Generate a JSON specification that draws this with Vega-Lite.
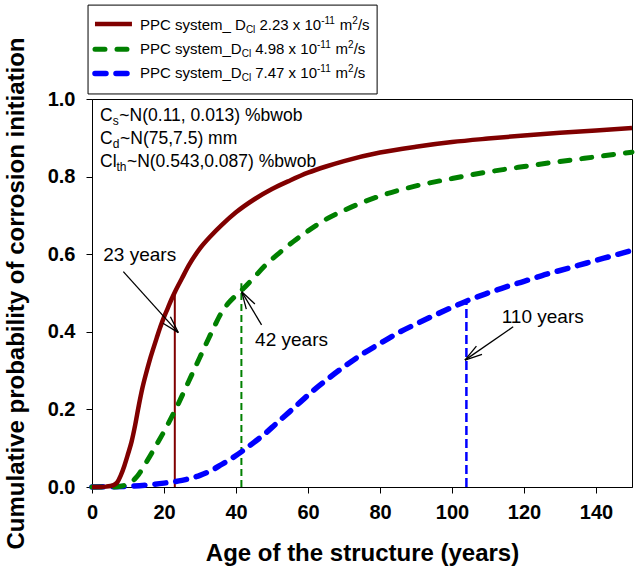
{
  "$schema": "https://vega.github.io/schema/vega-lite/v6.json",
  "autosize": "none",
  "width": 540,
  "height": 388,
  "padding": {"left": 92, "top": 99, "right": 3, "bottom": 79},
  "background": "white",
  "config": {
    "view": {"stroke": "black", "strokeWidth": 1},
    "font": "Liberation Sans",
    "axis": {
      "domainColor": "black", "tickColor": "black", "tickSize": 6, "grid": false,
      "labelFont": "Liberation Sans", "labelFontWeight": "bold", "labelFontSize": 20, "labelColor": "black",
      "titleFont": "Liberation Sans", "titleFontWeight": "bold", "titleFontSize": 24, "titleColor": "black",
      "labelFlush": false, "labelOverlap": false
    }
  },
  "datasets": {
    "curves": [
      {"series": "red", "age": 0, "p": 0}, {"series": "red", "age": 2, "p": 0}, {"series": "red", "age": 4, "p": 0.001},
      {"series": "red", "age": 6, "p": 0.005}, {"series": "red", "age": 7, "p": 0.012}, {"series": "red", "age": 8, "p": 0.03},
      {"series": "red", "age": 9, "p": 0.055}, {"series": "red", "age": 10, "p": 0.085}, {"series": "red", "age": 11, "p": 0.117},
      {"series": "red", "age": 12, "p": 0.16}, {"series": "red", "age": 13, "p": 0.21}, {"series": "red", "age": 14, "p": 0.255},
      {"series": "red", "age": 15, "p": 0.292}, {"series": "red", "age": 16, "p": 0.326}, {"series": "red", "age": 17, "p": 0.356},
      {"series": "red", "age": 18, "p": 0.385}, {"series": "red", "age": 19, "p": 0.413}, {"series": "red", "age": 20, "p": 0.438},
      {"series": "red", "age": 21, "p": 0.46}, {"series": "red", "age": 22, "p": 0.482}, {"series": "red", "age": 23, "p": 0.502},
      {"series": "red", "age": 25, "p": 0.538}, {"series": "red", "age": 27, "p": 0.573}, {"series": "red", "age": 30, "p": 0.615},
      {"series": "red", "age": 33, "p": 0.647}, {"series": "red", "age": 36, "p": 0.675}, {"series": "red", "age": 40, "p": 0.708},
      {"series": "red", "age": 45, "p": 0.741}, {"series": "red", "age": 50, "p": 0.768}, {"series": "red", "age": 55, "p": 0.79},
      {"series": "red", "age": 60, "p": 0.81}, {"series": "red", "age": 65, "p": 0.826}, {"series": "red", "age": 70, "p": 0.84},
      {"series": "red", "age": 80, "p": 0.862}, {"series": "red", "age": 90, "p": 0.877}, {"series": "red", "age": 100, "p": 0.889},
      {"series": "red", "age": 110, "p": 0.898}, {"series": "red", "age": 120, "p": 0.906}, {"series": "red", "age": 130, "p": 0.913},
      {"series": "red", "age": 140, "p": 0.919}, {"series": "red", "age": 150, "p": 0.925},

      {"series": "green", "age": 0, "p": 0}, {"series": "green", "age": 5, "p": 0}, {"series": "green", "age": 8, "p": 0.002},
      {"series": "green", "age": 10, "p": 0.008}, {"series": "green", "age": 11, "p": 0.013}, {"series": "green", "age": 12, "p": 0.022},
      {"series": "green", "age": 13, "p": 0.033}, {"series": "green", "age": 14, "p": 0.047}, {"series": "green", "age": 15, "p": 0.062},
      {"series": "green", "age": 16, "p": 0.078}, {"series": "green", "age": 18, "p": 0.11}, {"series": "green", "age": 20, "p": 0.143},
      {"series": "green", "age": 22, "p": 0.178}, {"series": "green", "age": 24, "p": 0.215}, {"series": "green", "age": 26, "p": 0.255},
      {"series": "green", "age": 28, "p": 0.295}, {"series": "green", "age": 30, "p": 0.335}, {"series": "green", "age": 32, "p": 0.375},
      {"series": "green", "age": 34, "p": 0.414}, {"series": "green", "age": 36, "p": 0.45}, {"series": "green", "age": 38, "p": 0.475},
      {"series": "green", "age": 40, "p": 0.494}, {"series": "green", "age": 42, "p": 0.511}, {"series": "green", "age": 45, "p": 0.54},
      {"series": "green", "age": 48, "p": 0.57}, {"series": "green", "age": 52, "p": 0.603}, {"series": "green", "age": 56, "p": 0.633},
      {"series": "green", "age": 60, "p": 0.66}, {"series": "green", "age": 65, "p": 0.69}, {"series": "green", "age": 70, "p": 0.713},
      {"series": "green", "age": 75, "p": 0.733}, {"series": "green", "age": 80, "p": 0.75}, {"series": "green", "age": 90, "p": 0.776},
      {"series": "green", "age": 100, "p": 0.795}, {"series": "green", "age": 110, "p": 0.812}, {"series": "green", "age": 120, "p": 0.826},
      {"series": "green", "age": 130, "p": 0.839}, {"series": "green", "age": 140, "p": 0.851}, {"series": "green", "age": 150, "p": 0.863},

      {"series": "blue", "age": 0, "p": 0}, {"series": "blue", "age": 10, "p": 0.002}, {"series": "blue", "age": 15, "p": 0.005},
      {"series": "blue", "age": 20, "p": 0.01}, {"series": "blue", "age": 25, "p": 0.017}, {"series": "blue", "age": 30, "p": 0.03},
      {"series": "blue", "age": 33, "p": 0.042}, {"series": "blue", "age": 36, "p": 0.058}, {"series": "blue", "age": 39, "p": 0.075},
      {"series": "blue", "age": 42, "p": 0.094}, {"series": "blue", "age": 45, "p": 0.115}, {"series": "blue", "age": 48, "p": 0.137},
      {"series": "blue", "age": 51, "p": 0.162}, {"series": "blue", "age": 55, "p": 0.195}, {"series": "blue", "age": 58, "p": 0.22},
      {"series": "blue", "age": 61, "p": 0.245}, {"series": "blue", "age": 65, "p": 0.275}, {"series": "blue", "age": 70, "p": 0.31},
      {"series": "blue", "age": 75, "p": 0.342}, {"series": "blue", "age": 80, "p": 0.37}, {"series": "blue", "age": 85, "p": 0.397},
      {"series": "blue", "age": 90, "p": 0.42}, {"series": "blue", "age": 95, "p": 0.442}, {"series": "blue", "age": 100, "p": 0.463},
      {"series": "blue", "age": 105, "p": 0.483}, {"series": "blue", "age": 110, "p": 0.5}, {"series": "blue", "age": 115, "p": 0.516},
      {"series": "blue", "age": 120, "p": 0.53}, {"series": "blue", "age": 125, "p": 0.545}, {"series": "blue", "age": 130, "p": 0.558},
      {"series": "blue", "age": 135, "p": 0.571}, {"series": "blue", "age": 140, "p": 0.584}, {"series": "blue", "age": 145, "p": 0.597},
      {"series": "blue", "age": 150, "p": 0.61}
    ],
    "drops": [
      {"series": "red", "age": 23, "p": 0.5},
      {"series": "green", "age": 41.5, "p": 0.525},
      {"series": "blue", "age": 104, "p": 0.48}
    ],
    "arrows": [
      {"x": 8.7, "y": 0.555, "x2": 23.97, "y2": 0.398},
      {"x": 23.97, "y": 0.398, "x2": 21.78, "y2": 0.439},
      {"x": 23.97, "y": 0.398, "x2": 19.72, "y2": 0.422},
      {"x": 47.1, "y": 0.418, "x2": 41.6, "y2": 0.503},
      {"x": 41.6, "y": 0.503, "x2": 42.86, "y2": 0.4585},
      {"x": 41.6, "y": 0.503, "x2": 45.25, "y2": 0.4716},
      {"x": 117.0, "y": 0.413, "x2": 103.6, "y2": 0.327},
      {"x": 103.6, "y": 0.327, "x2": 108.33, "y2": 0.342},
      {"x": 103.6, "y": 0.327, "x2": 106.78, "y2": 0.363}
    ],
    "labels": [
      {"text": "23 years", "age": 3.14, "p": 0.582},
      {"text": "42 years", "age": 45.3, "p": 0.363},
      {"text": "110 years", "age": 113.8, "p": 0.423}
    ],
    "params": [
      {"text": "C", "age": 2.22, "p": 0.943, "role": "main"},
      {"text": "s", "age": 5.75, "p": 0.943, "role": "sub"},
      {"text": "~N(0.11, 0.013) %bwob", "age": 7.6, "p": 0.943, "role": "main"},
      {"text": "C", "age": 2.22, "p": 0.884, "role": "main"},
      {"text": "d", "age": 5.75, "p": 0.884, "role": "sub"},
      {"text": "~N(75,7.5) mm", "age": 7.8, "p": 0.884, "role": "main"},
      {"text": "Cl", "age": 2.22, "p": 0.825, "role": "main"},
      {"text": "th", "age": 6.8, "p": 0.825, "role": "sub"},
      {"text": "~N(0.543,0.087) %bwob", "age": 9.7, "p": 0.825, "role": "main"}
    ],
    "legframe": [{"x1": -1.1, "x2": 79.2, "y1": 1.013, "y2": 1.242}],
    "legsamp": [
      {"series": "red", "age": 0.83, "p": 1.193}, {"series": "red", "age": 11.1, "p": 1.193},
      {"series": "green", "age": 0.83, "p": 1.128}, {"series": "green", "age": 11.1, "p": 1.128},
      {"series": "blue", "age": 0.83, "p": 1.066}, {"series": "blue", "age": 11.1, "p": 1.066}
    ],
    "legtext": [
      {"text": "PPC system_ D", "age": 13.33, "p": 1.178, "role": "main"},
      {"text": "Cl", "age": 42.75, "p": 1.178, "role": "sub"},
      {"text": "2.23 x 10", "age": 46.52, "p": 1.178, "role": "main"},
      {"text": "-11", "age": 63.67, "p": 1.178, "role": "sup"},
      {"text": "m", "age": 68.83, "p": 1.178, "role": "main"},
      {"text": "2", "age": 72.31, "p": 1.178, "role": "sup"},
      {"text": "/s", "age": 73.86, "p": 1.178, "role": "main"},
      {"text": "PPC system_D", "age": 13.33, "p": 1.116, "role": "main"},
      {"text": "Cl", "age": 41.58, "p": 1.116, "role": "sub"},
      {"text": "4.98 x 10", "age": 45.35, "p": 1.116, "role": "main"},
      {"text": "-11", "age": 62.5, "p": 1.116, "role": "sup"},
      {"text": "m", "age": 67.66, "p": 1.116, "role": "main"},
      {"text": "2", "age": 71.14, "p": 1.116, "role": "sup"},
      {"text": "/s", "age": 72.69, "p": 1.116, "role": "main"},
      {"text": "PPC system_D", "age": 13.33, "p": 1.054, "role": "main"},
      {"text": "Cl", "age": 41.58, "p": 1.054, "role": "sub"},
      {"text": "7.47 x 10", "age": 45.35, "p": 1.054, "role": "main"},
      {"text": "-11", "age": 62.5, "p": 1.054, "role": "sup"},
      {"text": "m", "age": 67.66, "p": 1.054, "role": "main"},
      {"text": "2", "age": 71.14, "p": 1.054, "role": "sup"},
      {"text": "/s", "age": 72.69, "p": 1.054, "role": "main"}
    ]
  },
  "encoding": {
    "x": {"field": "age", "type": "quantitative",
      "scale": {"domain": [0, 150], "nice": false},
      "axis": {"title": "Age of the structure (years)", "values": [0, 20, 40, 60, 80, 100, 120, 140], "labelPadding": 9, "titlePadding": 19}},
    "y": {"field": "p", "type": "quantitative",
      "scale": {"domain": [0, 1], "nice": false},
      "axis": {"title": "Cumulative probability of corrosion initiation", "values": [0, 0.2, 0.4, 0.6, 0.8, 1.0], "format": ".1f", "labelPadding": 11, "titlePadding": 19}}
  },
  "layer": [
    {
      "data": {"name": "legframe"},
      "mark": {"type": "rect", "fill": "white", "stroke": "black", "strokeWidth": 1},
      "encoding": {
        "x": {"field": "x1", "type": "quantitative"},
        "x2": {"field": "x2"},
        "y": {"field": "y1", "type": "quantitative"},
        "y2": {"field": "y2"}
      }
    },
    {
      "data": {"name": "drops"},
      "transform": [{"filter": "datum.series === 'red'"}],
      "mark": {"type": "rule", "color": "#800000", "strokeWidth": 2},
      "encoding": {"y": {"datum": 0}, "y2": {"field": "p"}}
    },
    {
      "data": {"name": "drops"},
      "transform": [{"filter": "datum.series === 'green'"}],
      "mark": {"type": "rule", "color": "#008000", "strokeWidth": 2, "strokeDash": [7, 4]},
      "encoding": {"y": {"datum": 0}, "y2": {"field": "p"}}
    },
    {
      "data": {"name": "drops"},
      "transform": [{"filter": "datum.series === 'blue'"}],
      "mark": {"type": "rule", "color": "#0000FF", "strokeWidth": 2.5, "strokeDash": [9, 4]},
      "encoding": {"y": {"datum": 0}, "y2": {"field": "p"}}
    },
    {
      "data": {"name": "curves"},
      "transform": [{"filter": "datum.series === 'blue'"}],
      "mark": {"type": "line", "color": "#0000FF", "strokeWidth": 5.5, "strokeDash": [11, 10], "strokeCap": "round", "interpolate": "monotone"}
    },
    {
      "data": {"name": "curves"},
      "transform": [{"filter": "datum.series === 'green'"}],
      "mark": {"type": "line", "color": "#008000", "strokeWidth": 5, "strokeDash": [10, 12], "strokeCap": "round", "interpolate": "monotone"}
    },
    {
      "data": {"name": "curves"},
      "transform": [{"filter": "datum.series === 'red'"}],
      "mark": {"type": "line", "color": "#800000", "strokeWidth": 4.5, "interpolate": "monotone"}
    },
    {
      "data": {"name": "legsamp"},
      "transform": [{"filter": "datum.series === 'red'"}],
      "mark": {"type": "line", "color": "#800000", "strokeWidth": 4.5}
    },
    {
      "data": {"name": "legsamp"},
      "transform": [{"filter": "datum.series === 'green'"}],
      "mark": {"type": "line", "color": "#008000", "strokeWidth": 5, "strokeDash": [10, 12], "strokeCap": "round"}
    },
    {
      "data": {"name": "legsamp"},
      "transform": [{"filter": "datum.series === 'blue'"}],
      "mark": {"type": "line", "color": "#0000FF", "strokeWidth": 5.5, "strokeDash": [11, 10], "strokeCap": "round"}
    },
    {
      "data": {"name": "arrows"},
      "mark": {"type": "rule", "color": "black", "strokeWidth": 1.3},
      "encoding": {
        "x": {"field": "x", "type": "quantitative"},
        "y": {"field": "y", "type": "quantitative"},
        "x2": {"field": "x2"},
        "y2": {"field": "y2"}
      }
    },
    {
      "data": {"name": "labels"},
      "mark": {"type": "text", "align": "left", "baseline": "alphabetic", "fontSize": 19, "color": "black"},
      "encoding": {"text": {"field": "text"}}
    },
    {
      "data": {"name": "params"},
      "transform": [{"filter": "datum.role === 'main'"}],
      "mark": {"type": "text", "align": "left", "baseline": "alphabetic", "fontSize": 17.5, "color": "black"},
      "encoding": {"text": {"field": "text"}}
    },
    {
      "data": {"name": "params"},
      "transform": [{"filter": "datum.role === 'sub'"}],
      "mark": {"type": "text", "align": "left", "baseline": "alphabetic", "fontSize": 12, "dy": 4, "color": "black"},
      "encoding": {"text": {"field": "text"}}
    },
    {
      "data": {"name": "legtext"},
      "transform": [{"filter": "datum.role === 'main'"}],
      "mark": {"type": "text", "align": "left", "baseline": "alphabetic", "fontSize": 15, "color": "black"},
      "encoding": {"text": {"field": "text"}}
    },
    {
      "data": {"name": "legtext"},
      "transform": [{"filter": "datum.role === 'sub'"}],
      "mark": {"type": "text", "align": "left", "baseline": "alphabetic", "fontSize": 10, "dy": 3, "color": "black"},
      "encoding": {"text": {"field": "text"}}
    },
    {
      "data": {"name": "legtext"},
      "transform": [{"filter": "datum.role === 'sup'"}],
      "mark": {"type": "text", "align": "left", "baseline": "alphabetic", "fontSize": 10, "dy": -6, "color": "black"},
      "encoding": {"text": {"field": "text"}}
    }
  ]
}
